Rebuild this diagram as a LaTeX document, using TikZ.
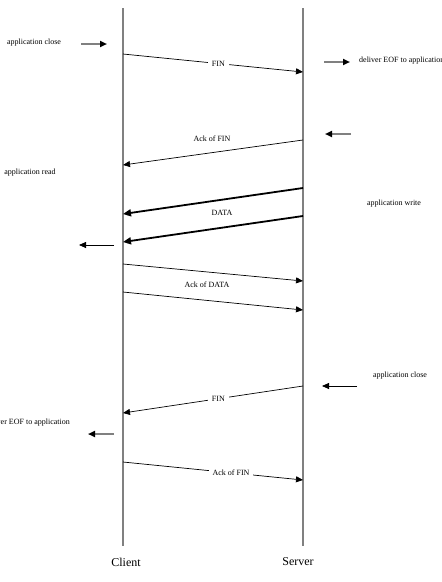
\documentclass[tikz,border=0pt]{standalone}
\usepackage{fontspec}
\setmainfont{Liberation Serif}
\usetikzlibrary{arrows.meta}
\tikzset{
  life/.style={draw=gray,line width=1.3pt},
  msg/.style={-{Triangle[length=7pt,width=6pt]},line width=0.7pt},
  bigmsg/.style={-{Triangle[length=8pt,width=7pt]},line width=1.8pt},
  side/.style={-{Triangle[length=7pt,width=6pt,color=black]},draw=gray,line width=1.8pt},
  blackside/.style={-{Triangle[length=7pt,width=6pt]},line width=0.8pt},
  lbl/.style={font=\fontsize{8}{9}\selectfont,inner sep=1pt},
  gap/.style={lbl,fill=white,inner sep=4pt},
  head/.style={font=\fontsize{12}{14}\selectfont}
}
\begin{document}
\begin{tikzpicture}[x=1pt,y=-1pt]
\useasboundingbox (0,0) rectangle (442,582);

% lifelines
\coordinate (ctop) at (123,8);
\coordinate (cbot) at (123,546);
\coordinate (stop) at (303,8);
\coordinate (sbot) at (303,546);
\draw[life] (ctop) -- (cbot);
\draw[life] (stop) -- (sbot);
\node[head] (client) at (126,562) {Client};
\node[head] (server) at (298,562) {Server};

% message ends
\coordinate (c1) at (123,54);   \coordinate (s1) at (303,72);
\coordinate (s2) at (303,140);  \coordinate (c2) at (123,165);
\coordinate (s3) at (303,188);  \coordinate (c3) at (123,214);
\coordinate (s4) at (303,216);  \coordinate (c4) at (123,242);
\coordinate (c5) at (123,264);  \coordinate (s5) at (303,281);
\coordinate (c6) at (123,292);  \coordinate (s6) at (303,310);
\coordinate (s7) at (303,386);  \coordinate (c7) at (123,413);
\coordinate (c8) at (123,462);  \coordinate (s8) at (303,480);

% first close
\node[lbl] (cclose) at (34,43) {application close};
\coordinate (a1) at (81,44);
\coordinate (b1) at (107,44);
\draw[side] (a1) -- (b1);
\draw[msg] (c1) -- node[gap,pos=0.53] (fin1) {FIN} (s1);
\coordinate (a2) at (324,62);
\coordinate (b2) at (350,62);
\draw[side] (a2) -- (b2);
\node[lbl,anchor=west] (seof) at (358,61) {deliver EOF to application};

\coordinate (a3) at (351,134);
\coordinate (b3) at (325,134);
\draw[side] (a3) -- (b3);
\draw[msg] (s2) -- (c2);
\node[lbl] (ack1) at (212,139) {Ack of FIN};

% data
\node[lbl] (cread) at (30,173) {application read};
\node[lbl] (swrite) at (394,204) {application write};
\draw[bigmsg] (s3) -- (c3);
\draw[bigmsg] (s4) -- (c4);
\node[lbl] (data) at (222,213) {DATA};
\coordinate (a4) at (114,245);
\coordinate (b4) at (79,245);
\draw[blackside] (a4) -- (b4);

\draw[msg] (c5) -- (s5);
\draw[msg] (c6) -- (s6);
\node[lbl] (ackd) at (207,285) {Ack of DATA};

% second close
\node[lbl] (sclose) at (400,376) {application close};
\coordinate (a5) at (357,386);
\coordinate (b5) at (322,386);
\draw[blackside] (a5) -- (b5);
\draw[msg] (s7) -- node[gap,pos=0.47] (fin2) {FIN} (c7);
\node[lbl,anchor=east] (ceof) at (71,423) {deliver EOF to application};
\coordinate (a6) at (114,434);
\coordinate (b6) at (88,434);
\draw[side] (a6) -- (b6);
\draw[msg] (c8) -- node[gap,pos=0.6] (ack2) {Ack of FIN} (s8);
\end{tikzpicture}
\end{document}
